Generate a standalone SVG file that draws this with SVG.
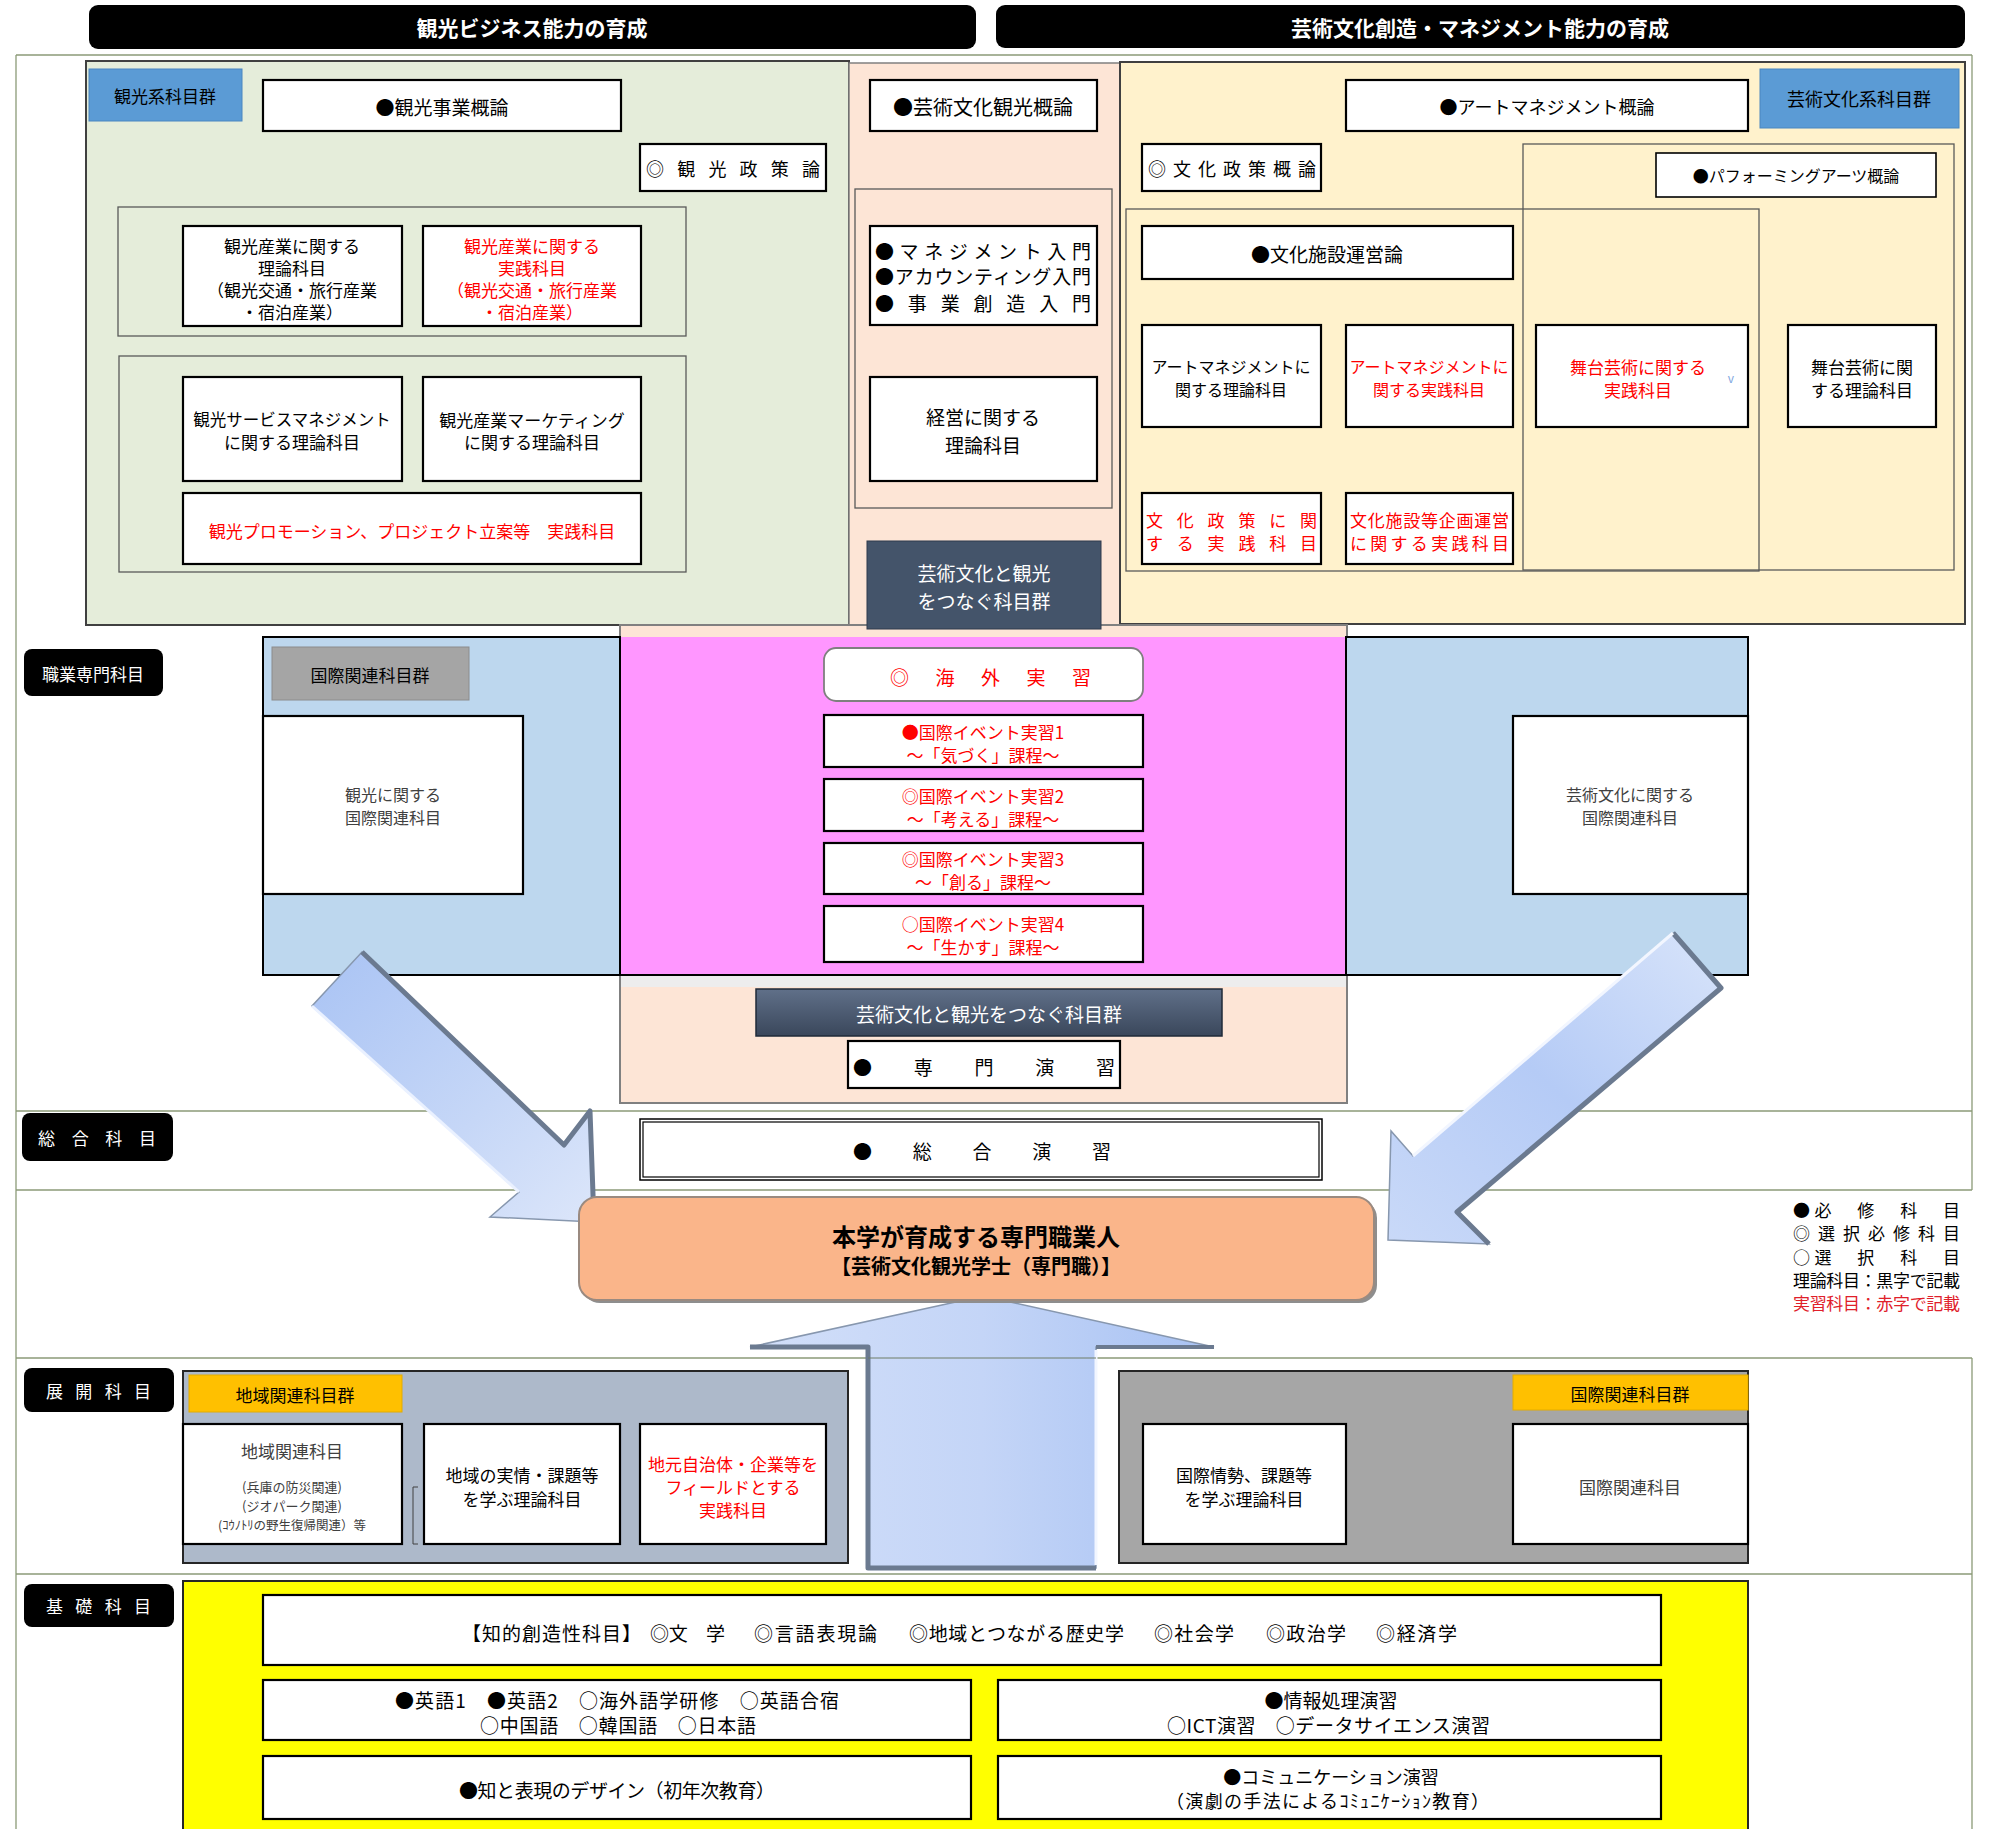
<svg xmlns="http://www.w3.org/2000/svg" width="1996" height="1829" viewBox="0 0 1996 1829">
<defs>
<style>
.t{font-family:"Noto Sans CJK JP","Noto Sans",sans-serif;font-size:17px;text-anchor:middle;dominant-baseline:central;fill:#000}
.s{text-anchor:start}
.r{fill:#FF0000}
.g{fill:#404040}
.w{fill:#FFFFFF}
.bd{font-weight:bold}
.f16{font-size:16px}
.f18{font-size:18px}
.f19{font-size:19px}
.f20{font-size:20px}
.b{fill:#FFFFFF;stroke:#000;stroke-width:2.2}
.fr{fill:none;stroke:#595959;stroke-width:1.3}
.row{fill:none;stroke:#8C9B78;stroke-width:1.3}
.lab{fill:#000}
</style>
<linearGradient id="slate" x1="0" y1="0" x2="0" y2="1">
<stop offset="0" stop-color="#607089"/>
<stop offset="1" stop-color="#3A475B"/>
</linearGradient>
<linearGradient id="arrowL" x1="0" y1="0" x2="1" y2="1">
<stop offset="0" stop-color="#A9C3F4"/>
<stop offset="0.6" stop-color="#C6D7F7"/>
<stop offset="1" stop-color="#DCE6FA"/>
</linearGradient>
<linearGradient id="arrowR" x1="1" y1="0" x2="0" y2="1">
<stop offset="0" stop-color="#D8E4FA"/>
<stop offset="0.5" stop-color="#B5CBF6"/>
<stop offset="1" stop-color="#C9D9F8"/>
</linearGradient>
<linearGradient id="arrowU" x1="0" y1="0" x2="1" y2="0">
<stop offset="0" stop-color="#D2DFF9"/>
<stop offset="0.5" stop-color="#C4D5F7"/>
<stop offset="1" stop-color="#A8C2F3"/>
</linearGradient>
</defs>
<rect x="0" y="0" width="1996" height="1829" fill="#FFFFFF"/>

<g id="frame">
<path class="row" d="M16 55 H1972 M16 55 V1829 M1972 55 V1190 M1972 1358 V1829 M16 1111 H1972 M16 1190 H1972 M16 1358 H1972 M16 1574 H1972"/>
</g>

<g id="header-tourism"><rect x="89" y="5" width="887" height="44" rx="9" fill="#000"/><text class="t w bd" style="font-size:21px" x="532" y="27">観光ビジネス能力の育成</text></g>
<g id="header-arts"><rect x="996" y="5" width="969" height="43" rx="9" fill="#000"/><text class="t w bd" style="font-size:21px" x="1480" y="27">芸術文化創造・マネジメント能力の育成</text></g>

<!-- regions -->
<g id="region-tourism"><rect x="86" y="61" width="763" height="564" fill="#E5EDDA" stroke="#404040" stroke-width="2"/></g>
<g id="region-center-top"><rect x="849" y="63" width="271" height="562" fill="#FDE5D6" stroke="#808080" stroke-width="1.5"/></g>
<g id="region-arts"><rect x="1120" y="62" width="845" height="562" fill="#FFF2CC" stroke="#404040" stroke-width="2"/></g>
<g id="region-center-low"><rect x="620" y="625" width="727" height="478" fill="#FDE5D6" stroke="#808080" stroke-width="2"/>
<rect x="621" y="637" width="725" height="338" fill="#FF96FF"/>
<rect x="621" y="975" width="725" height="12" fill="#EDEDED"/>
</g>
<g id="region-intl-left"><rect x="263" y="637" width="357" height="338" fill="#BDD7EE" stroke="#000" stroke-width="2"/></g>
<g id="region-intl-right"><rect x="1346" y="637" width="402" height="338" fill="#BDD7EE" stroke="#000" stroke-width="2"/></g>
<path d="M620 637 V975 H1346 V637" fill="none" stroke="#000" stroke-width="2"/>

<!-- tourism nodes -->
<g id="n-kanko-label"><rect x="89" y="69" width="153" height="52" fill="#5B9BD5" stroke="#4A86C0"/><text class="t" x="165" y="95">観光系科目群</text></g>
<g id="n-kanko-jigyo"><rect class="b" x="263" y="80" width="358" height="51"/><text class="t f19" x="442" y="106">●観光事業概論</text></g>
<g id="n-kanko-seisaku"><rect class="b" x="640" y="144" width="186" height="47"/><text class="t s f18" x="646" y="168" textLength="174" lengthAdjust="spacing">◎観光政策論</text></g>
<g id="frame-kanko-1"><rect class="fr" x="118" y="207" width="568" height="129"/></g>
<g id="n-kanko-sangyo-riron"><rect class="b" x="183" y="226" width="219" height="100"/>
<text class="t" x="292" y="245">観光産業に関する</text><text class="t" x="292" y="267">理論科目</text><text class="t" x="292" y="289">（観光交通・旅行産業</text><text class="t" x="292" y="311">・宿泊産業）</text></g>
<g id="n-kanko-sangyo-jissen"><rect class="b" x="423" y="226" width="218" height="100"/>
<text class="t r" x="532" y="245">観光産業に関する</text><text class="t r" x="532" y="267">実践科目</text><text class="t r" x="532" y="289">（観光交通・旅行産業</text><text class="t r" x="532" y="311">・宿泊産業）</text></g>
<g id="frame-kanko-2"><rect class="fr" x="119" y="356" width="567" height="216"/></g>
<g id="n-kanko-service"><rect class="b" x="183" y="377" width="219" height="104"/>
<text class="t" style="font-size:16.5px" x="292" y="419">観光サービスマネジメント</text><text class="t" x="292" y="441">に関する理論科目</text></g>
<g id="n-kanko-marketing"><rect class="b" x="423" y="377" width="218" height="104"/>
<text class="t" x="532" y="419">観光産業マーケティング</text><text class="t" x="532" y="441">に関する理論科目</text></g>
<g id="n-kanko-promo"><rect class="b" x="183" y="493" width="458" height="71"/><text class="t r" x="412" y="530">観光プロモーション、プロジェクト立案等　実践科目</text></g>

<!-- center top nodes -->
<g id="n-geijutsu-kanko"><rect class="b" x="870" y="80" width="227" height="51"/><text class="t f20" x="983" y="106">●芸術文化観光概論</text></g>
<g id="frame-center"><rect class="fr" x="855" y="189" width="257" height="319"/></g>
<g id="n-nyumon"><rect class="b" x="870" y="226" width="227" height="99"/>
<text class="t s f19" x="875" y="250" textLength="216" lengthAdjust="spacing">●マネジメント入門</text>
<text class="t s f19" x="875" y="275" textLength="216" lengthAdjust="spacing">●アカウンティング入門</text>
<text class="t s f19" x="875" y="302" textLength="216" lengthAdjust="spacing">●事業創造入門</text></g>
<g id="n-keiei"><rect class="b" x="870" y="377" width="227" height="104"/><text class="t f19" x="983" y="416">経営に関する</text><text class="t f19" x="983" y="444">理論科目</text></g>
<g id="n-tsunagu-1"><rect x="867" y="541" width="234" height="88" fill="#44546A" stroke="#2F3B4C"/><text class="t w f19" x="984" y="572">芸術文化と観光</text><text class="t w f19" x="984" y="600">をつなぐ科目群</text></g>

<!-- arts nodes -->
<g id="n-art-mgmt"><rect class="b" x="1346" y="80" width="402" height="51"/><text class="t f18" x="1547" y="106">●アートマネジメント概論</text></g>
<g id="n-arts-label"><rect x="1760" y="69" width="199" height="59" fill="#5B9BD5" stroke="#4A86C0"/><text class="t f18" x="1859" y="98">芸術文化系科目群</text></g>
<g id="n-bunka-seisaku"><rect class="b" x="1142" y="144" width="179" height="47"/><text class="t s f18" x="1148" y="168" textLength="168" lengthAdjust="spacing">◎文化政策概論</text></g>
<g id="frame-performing"><rect class="fr" x="1523" y="144" width="431" height="426"/></g>
<g id="frame-facility"><rect class="fr" x="1126" y="209" width="633" height="362"/></g>
<g id="n-performing"><rect class="b" x="1656" y="153" width="280" height="44" style="stroke-width:1.6"/><text class="t f16" x="1796" y="175">●パフォーミングアーツ概論</text></g>
<g id="n-shisetsu"><rect class="b" x="1142" y="226" width="371" height="53"/><text class="t f19" x="1327" y="253">●文化施設運営論</text></g>
<g id="n-artm-riron"><rect class="b" x="1142" y="325" width="179" height="102"/><text class="t f16" x="1231" y="366">アートマネジメントに</text><text class="t f16" x="1231" y="389">関する理論科目</text></g>
<g id="n-artm-jissen"><rect class="b" x="1346" y="325" width="167" height="102"/><text class="t r f16" x="1429" y="366">アートマネジメントに</text><text class="t r f16" x="1429" y="389">関する実践科目</text></g>
<g id="n-butai-jissen"><rect class="b" x="1536" y="325" width="212" height="102"/><text class="t r" x="1638" y="366">舞台芸術に関する</text><text class="t r" x="1638" y="389">実践科目</text><text class="t" style="font-size:12px;fill:#7FA7E0" x="1731" y="377">v</text></g>
<g id="n-butai-riron"><rect class="b" x="1788" y="325" width="148" height="102"/><text class="t" x="1862" y="366">舞台芸術に関</text><text class="t" x="1862" y="389">する理論科目</text></g>
<g id="n-seisaku-jissen"><rect class="b" x="1142" y="493" width="179" height="71"/><text class="t s r" x="1146" y="519" textLength="171" lengthAdjust="spacing">文化政策に関</text><text class="t s r" x="1146" y="542" textLength="171" lengthAdjust="spacing">する実践科目</text></g>
<g id="n-shisetsu-jissen"><rect class="b" x="1346" y="493" width="167" height="71"/><text class="t s r" x="1350" y="519" textLength="159" lengthAdjust="spacing">文化施設等企画運営</text><text class="t s r" x="1350" y="542" textLength="159" lengthAdjust="spacing">に関する実践科目</text></g>

<!-- row labels -->
<g id="lab-shokugyo"><rect class="lab" x="24" y="649" width="139" height="47" rx="8"/><text class="t w" x="93" y="673">職業専門科目</text></g>
<g id="lab-sogo"><rect class="lab" x="22" y="1113" width="151" height="48" rx="8"/><text class="t s w" x="38" y="1137" textLength="118" lengthAdjust="spacing">総合科目</text></g>
<g id="lab-tenkai"><rect class="lab" x="24" y="1368" width="150" height="44" rx="8"/><text class="t s w" x="46" y="1390" textLength="105" lengthAdjust="spacing">展開科目</text></g>
<g id="lab-kiso"><rect class="lab" x="24" y="1584" width="150" height="43" rx="8"/><text class="t s w" x="46" y="1605" textLength="105" lengthAdjust="spacing">基礎科目</text></g>

<!-- international -->
<g id="n-intl-label"><rect x="272" y="647" width="197" height="53" fill="#A5A5A5" stroke="#8C8C8C"/><text class="t" x="370" y="674">国際関連科目群</text></g>
<g id="n-intl-kanko"><rect class="b" x="263" y="716" width="260" height="178"/><text class="t g f16" x="393" y="794">観光に関する</text><text class="t g f16" x="393" y="817">国際関連科目</text></g>
<g id="n-intl-arts"><rect class="b" x="1513" y="716" width="235" height="178"/><text class="t g f16" x="1630" y="794">芸術文化に関する</text><text class="t g f16" x="1630" y="817">国際関連科目</text></g>

<!-- pink column -->
<g id="n-kaigai"><rect x="824" y="648" width="319" height="53" rx="12" fill="#FFFFFF" stroke="#7F7F7F" stroke-width="1.8"/><text class="t s r f19" x="890" y="676" textLength="201" lengthAdjust="spacing">◎海外実習</text></g>
<g id="n-event1"><rect class="b" x="824" y="715" width="319" height="52"/><text class="t r" x="983" y="731">●国際イベント実習1</text><text class="t r" x="983" y="754">～「気づく」課程～</text></g>
<g id="n-event2"><rect class="b" x="824" y="779" width="319" height="52"/><text class="t r" x="983" y="795">◎国際イベント実習2</text><text class="t r" x="983" y="818">～「考える」課程～</text></g>
<g id="n-event3"><rect class="b" x="824" y="843" width="319" height="51"/><text class="t r" x="983" y="858">◎国際イベント実習3</text><text class="t r" x="983" y="881">～「創る」課程～</text></g>
<g id="n-event4"><rect class="b" x="824" y="906" width="319" height="56"/><text class="t r" x="983" y="923">○国際イベント実習4</text><text class="t r" x="983" y="946">～「生かす」課程～</text></g>
<g id="n-tsunagu-2"><rect x="756" y="989" width="466" height="47" fill="url(#slate)" stroke="#1F2A38" stroke-width="1.5"/><text class="t w f19" x="989" y="1013">芸術文化と観光をつなぐ科目群</text></g>
<g id="n-senmon"><rect class="b" x="848" y="1041" width="272" height="47"/><text class="t s f19" x="853" y="1066" textLength="262" lengthAdjust="spacing">●専門演習</text></g>

<!-- sogo -->
<g id="n-sogo-enshu"><rect x="640" y="1119" width="682" height="61" fill="#FFFFFF" stroke="#000" stroke-width="1.5"/><rect x="643" y="1122" width="676" height="55" fill="none" stroke="#000" stroke-width="1.2"/><text class="t s f19" x="853" y="1150" textLength="258" lengthAdjust="spacing">●総合演習</text></g>

<!-- tenkai row -->
<g id="region-chiiki"><rect x="183" y="1371" width="665" height="192" fill="#ADB9CA" stroke="#262626" stroke-width="2"/></g>
<g id="region-kokusai"><rect x="1119" y="1371" width="629" height="192" fill="#A6A6A6" stroke="#262626" stroke-width="2"/></g>
<g id="n-chiiki-label"><rect x="189" y="1375" width="213" height="37" fill="#FFC000" stroke="#E3AC00"/><text class="t" x="295" y="1394">地域関連科目群</text></g>
<g id="n-chiiki-kamoku"><rect class="b" x="183" y="1424" width="219" height="120"/>
<text class="t g" x="292" y="1450">地域関連科目</text>
<text class="t g" style="font-size:13px" x="292" y="1486">(兵庫の防災関連)</text>
<text class="t g" style="font-size:13px" x="292" y="1505">(ジオパーク関連)</text>
<text class="t g" style="font-size:12.5px" x="292" y="1524">(ｺｳﾉﾄﾘの野生復帰関連）等</text></g>
<path d="M418 1487 H413 V1544 H418" fill="none" stroke="#404040" stroke-width="1"/>
<g id="n-chiiki-riron"><rect class="b" x="424" y="1424" width="196" height="120"/><text class="t" x="522" y="1474">地域の実情・課題等</text><text class="t" x="522" y="1498">を学ぶ理論科目</text></g>
<g id="n-chiiki-jissen"><rect class="b" x="640" y="1424" width="186" height="120"/><text class="t r" x="733" y="1463">地元自治体・企業等を</text><text class="t r" x="733" y="1486">フィールドとする</text><text class="t r" x="733" y="1509">実践科目</text></g>
<g id="n-kokusai-label"><rect x="1513" y="1375" width="235" height="35" fill="#FFC000" stroke="#E3AC00"/><text class="t" x="1630" y="1393">国際関連科目群</text></g>
<g id="n-kokusai-riron"><rect class="b" x="1143" y="1424" width="203" height="120"/><text class="t" x="1244" y="1474">国際情勢、課題等</text><text class="t" x="1244" y="1498">を学ぶ理論科目</text></g>
<g id="n-kokusai-kamoku"><rect class="b" x="1513" y="1424" width="235" height="120"/><text class="t g" x="1630" y="1486">国際関連科目</text></g>

<!-- kiso row -->
<g id="region-kiso"><rect x="183" y="1581" width="1565" height="260" fill="#FFFF00" stroke="#262626" stroke-width="2"/></g>
<g id="n-chiteki"><rect class="b" x="263" y="1595" width="1398" height="70"/>
<text class="t s f19" x="462" y="1632" textLength="179" lengthAdjust="spacing">【知的創造性科目】</text>
<text class="t s f19" x="650" y="1632" textLength="75" lengthAdjust="spacing">◎文　学</text>
<text class="t s f19" x="754" y="1632" textLength="123" lengthAdjust="spacing">◎言語表現論</text>
<text class="t s f19" x="909" y="1632" textLength="215" lengthAdjust="spacing">◎地域とつながる歴史学</text>
<text class="t s f19" x="1154" y="1632" textLength="80" lengthAdjust="spacing">◎社会学</text>
<text class="t s f19" x="1266" y="1632" textLength="80" lengthAdjust="spacing">◎政治学</text>
<text class="t s f19" x="1376" y="1632" textLength="81" lengthAdjust="spacing">◎経済学</text></g>
<g id="n-eigo"><rect class="b" x="263" y="1680" width="708" height="60"/>
<text class="t s f19" x="395" y="1699" textLength="444" lengthAdjust="spacing">●英語1　●英語2　○海外語学研修　○英語合宿</text>
<text class="t s f19" x="480" y="1724" textLength="276" lengthAdjust="spacing">○中国語　○韓国語　○日本語</text></g>
<g id="n-joho"><rect class="b" x="998" y="1680" width="663" height="60"/>
<text class="t f19" x="1331" y="1699">●情報処理演習</text>
<text class="t s f19" x="1167" y="1724" textLength="323" lengthAdjust="spacing">○ICT演習　○データサイエンス演習</text></g>
<g id="n-chi-hyogen"><rect class="b" x="263" y="1756" width="708" height="63"/>
<text class="t s f19" x="459" y="1789" textLength="316" lengthAdjust="spacing">●知と表現のデザイン（初年次教育）</text></g>
<g id="n-comm"><rect class="b" x="998" y="1756" width="663" height="63"/>
<text class="t f18" x="1331" y="1776">●コミュニケーション演習</text>
<text class="t s f18" x="1166" y="1800" textLength="323" lengthAdjust="spacing">（演劇の手法によるｺﾐｭﾆｹｰｼｮﾝ教育）</text></g>

<!-- connectors (block arrows) -->
<g id="connectors">
<g id="arrow-left">
<polygon points="362,952 564,1145 590,1111 594,1222 490,1217 519,1192 312,1006" fill="url(#arrowL)" stroke="#8797AE" stroke-width="1.5"/>
<polyline points="362,952 564,1145 590,1111 594,1222" fill="none" stroke="#6B7A90" stroke-width="5" stroke-linejoin="round"/>
<polyline points="312,1006 519,1192" fill="none" stroke="#EAF1FF" stroke-width="3"/>
</g>
<g id="arrow-right">
<polygon points="1673,933 1721,988 1457,1212 1489,1244 1388,1240 1391,1131 1413,1156" fill="url(#arrowR)" stroke="#8797AE" stroke-width="1.5"/>
<polyline points="1673,933 1721,988 1457,1212 1489,1244" fill="none" stroke="#6B7A90" stroke-width="5" stroke-linejoin="round"/>
<polyline points="1673,933 1413,1156" fill="none" stroke="#F2F6FF" stroke-width="3"/>
</g>
<g id="arrow-up">
<polygon points="868,1568 868,1347 750,1347 983,1296 1214,1347 1096,1347 1096,1568" fill="url(#arrowU)" stroke="#8797AE" stroke-width="1.5"/>
<polyline points="750,1347 868,1347 868,1568 1096,1568" fill="none" stroke="#6B7A90" stroke-width="5" stroke-linejoin="round"/>
<polyline points="1096,1347 1214,1347" fill="none" stroke="#6B7A90" stroke-width="4"/>
<polyline points="1096,1350 1096,1565" fill="none" stroke="#F2F6FF" stroke-width="3"/>
</g>
</g>
<path d="M868 1358 H1096" stroke="#6E7C66" stroke-width="1"/>

<!-- goal -->
<g id="n-goal"><rect x="582" y="1200" width="795" height="103" rx="18" fill="#8E8E8E"/><rect x="579" y="1197" width="795" height="103" rx="18" fill="#FAB58A" stroke="#9A8A80" stroke-width="2"/>
<text class="t bd" style="font-size:24px" x="976" y="1235">本学が育成する専門職業人</text>
<text class="t bd f20" x="976" y="1265">【芸術文化観光学士（専門職）】</text></g>

<!-- legend -->
<g id="legend">
<text class="t s" x="1793" y="1209" textLength="167" lengthAdjust="spacing">●必　修　科　目</text>
<text class="t s" x="1793" y="1232" textLength="167" lengthAdjust="spacing">◎選択必修科目</text>
<text class="t s" x="1793" y="1256" textLength="167" lengthAdjust="spacing">○選　択　科　目</text>
<text class="t s" x="1793" y="1279" textLength="167" lengthAdjust="spacing">理論科目：黒字で記載</text>
<text class="t s" style="fill:#E0202A" x="1793" y="1302" textLength="167" lengthAdjust="spacing">実習科目：赤字で記載</text>
</g>
</svg>
